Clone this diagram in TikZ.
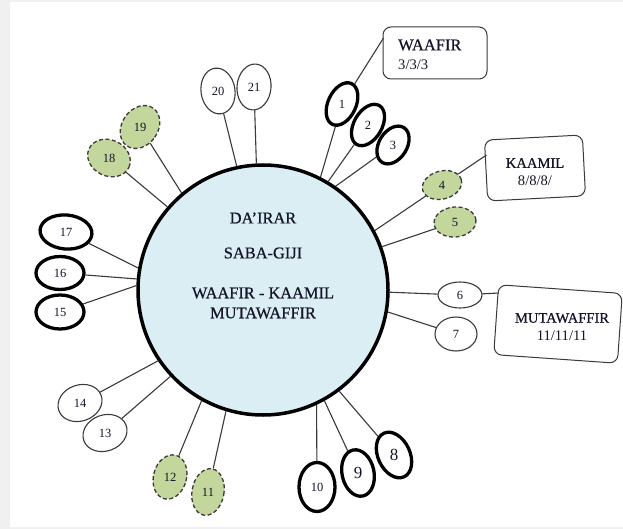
\documentclass[tikz,border=0pt]{standalone}
\usepackage{fontspec}
\setmainfont{Liberation Serif}
\newfontfamily\heavyserif[FakeBold=0.6]{Liberation Serif}
\usetikzlibrary{shapes.geometric}
\definecolor{cblue}{HTML}{DAEEF3}
\definecolor{olivefill}{HTML}{C3D69B}
\definecolor{dgray}{HTML}{3A3A3A}
\definecolor{txt}{HTML}{15152A}
\definecolor{pagegray}{HTML}{F0F0F0}
\tikzset{
  thickel/.style={ellipse, draw=black, line width=3.3pt, fill=white, inner sep=0pt},
  thinel/.style={ellipse, draw=dgray, line width=1.1pt, fill=white, inner sep=0pt},
  greenel/.style={ellipse, draw=dgray, fill=olivefill, line width=1.3pt, dash pattern=on 4pt off 2.5pt, inner sep=0pt},
  conn/.style={draw=dgray, line width=1.1pt},
  num/.style={font=\fontsize{12.5}{14}\selectfont, text=txt, inner sep=0pt},
  bignum/.style={font=\fontsize{17}{19}\selectfont, text=txt, inner sep=0pt},
  ctext/.style={font=\heavyserif\fontsize{16.4}{18}\selectfont, text=txt, inner sep=0pt},
  btitle/.style={font=\heavyserif\fontsize{14.6}{16}\selectfont, text=txt, inner sep=0pt},
  bnum/.style={font=\fontsize{14.6}{16}\selectfont, text=txt, inner sep=0pt},
  infobox/.style={draw=dgray, line width=1pt, rounded corners=8pt, fill=white, inner sep=0pt},
}
\begin{document}
\begin{tikzpicture}[x=1pt,y=-1pt]
\useasboundingbox (0,0) rectangle (623,529);
\fill[pagegray] (0,0) rectangle (623,529);
\fill[white] (10,2) rectangle (623,527);

% main circle
\node[circle, draw=black, line width=3.5pt, fill=cblue, minimum size=250pt, inner sep=0pt] (C) at (263,290) {};
\node[ctext] (t1) at (263,218) {DA’IRAR};
\node[ctext] (t2) at (263,253) {SABA-GIJI};
\node[ctext] (t3) at (263,293) {WAAFIR - KAAMIL};
\node[ctext] (t4) at (263,313) {MUTAWAFFIR};

% info boxes
\node[infobox, minimum width=104pt, minimum height=52pt] (wbox) at (435,53) {};
\node[font=\heavyserif\fontsize{16.5}{18}\selectfont, text=txt, inner sep=0pt, anchor=west] (wt) at (398,45) {WAAFIR};
\node[bnum, anchor=west] (wn) at (398,65) {3/3/3};
\node[infobox, minimum width=98pt, minimum height=61pt, rotate=3] (kbox) at (535,168) {};
\node[btitle] (kt) at (535,163) {KAAMIL};
\node[bnum] (kn) at (535,181) {8/8/8/};
\node[infobox, minimum width=124pt, minimum height=70pt, rotate=-4] (mbox) at (558,324) {};
\node[btitle] (mt) at (562,318) {MUTAWAFFIR};
\node[bnum] (mn) at (562,336) {11/11/11};

% satellite ellipses
\node[thickel, minimum width=28pt, minimum height=45pt, rotate=-25] (e1) at (342,104) {};
\node[thickel, minimum width=28pt, minimum height=45pt, rotate=-30] (e2) at (368,125) {};
\node[thickel, minimum width=28pt, minimum height=41pt, rotate=-32] (e3) at (393,145) {};
\node[greenel, minimum width=40pt, minimum height=28pt, rotate=15] (e4) at (442,185) {};
\node[greenel, minimum width=42pt, minimum height=30pt, rotate=5] (e5) at (455,222) {};
\node[thinel, minimum width=44pt, minimum height=26pt] (e6) at (460,295) {};
\node[thinel, minimum width=42pt, minimum height=34pt] (e7) at (456,334) {};
\node[thickel, minimum width=32pt, minimum height=48pt, rotate=25] (e8) at (394,455) {};
\node[thickel, minimum width=32pt, minimum height=47pt, rotate=12] (e9) at (358,473) {};
\node[thickel, minimum width=36pt, minimum height=49pt] (e10) at (317,487) {};
\node[greenel, minimum width=32pt, minimum height=47pt, rotate=-10] (e11) at (208,492) {};
\node[greenel, minimum width=33pt, minimum height=45pt, rotate=-15] (e12) at (170,477) {};
\node[thinel, minimum width=45pt, minimum height=36pt, rotate=20] (e13) at (105,433) {};
\node[thinel, minimum width=45pt, minimum height=36pt, rotate=20] (e14) at (80,403) {};
\node[thickel, minimum width=48pt, minimum height=34pt] (e15) at (60,312) {};
\node[thickel, minimum width=48pt, minimum height=33pt] (e16) at (60,273) {};
\node[thickel, minimum width=52pt, minimum height=34pt, rotate=-5] (e17) at (66,232) {};
\node[greenel, minimum width=44pt, minimum height=36pt, rotate=-25] (e18) at (109,158) {};
\node[greenel, minimum width=36pt, minimum height=46pt, rotate=-35] (e19) at (140,127) {};
\node[thinel, minimum width=34pt, minimum height=46pt, rotate=8] (e20) at (218,91) {};
\node[thinel, minimum width=34pt, minimum height=46pt, rotate=-5] (e21) at (254,87) {};

% numbers
\node[num] at (e1) {1};
\node[num] at (e2) {2};
\node[num] at (e3) {3};
\node[num] at (e4) {4};
\node[num] at (e5) {5};
\node[num] at (e6) {6};
\node[num] at (e7) {7};
\node[bignum] at (e8) {8};
\node[bignum] at (e9) {9};
\node[num] at (e10) {10};
\node[num] at (e11) {11};
\node[num] at (e12) {12};
\node[num] at (e13) {13};
\node[num] at (e14) {14};
\node[num] at (e15) {15};
\node[num] at (e16) {16};
\node[num] at (e17) {17};
\node[num] at (e18) {18};
\node[num] at (e19) {19};
\node[num] at (e20) {20};
\node[num] at (e21) {21};

% connectors from circle
\draw[conn] (C.63) -- (e1);
\draw[conn] (C.59) -- (e2);
\draw[conn] (C.55) -- (e3);
\draw[conn] (C.28) -- (e4);
\draw[conn] (C.20) -- (e5);
\draw[conn] (C.-1) -- (e6);
\draw[conn] (C.-10) -- (e7);
\draw[conn] (C.-53.5) -- (e8);
\draw[conn] (C.-61) -- (e9);
\draw[conn] (C.-65) -- (e10);
\draw[conn] (C.-107) -- (e11);
\draw[conn] (C.-119) -- (e12);
\draw[conn] (C.-137) -- (e13);
\draw[conn] (C.-146) -- (e14);
\draw[conn] (C.178.5) -- (e15);
\draw[conn] (C.175) -- (e16);
\draw[conn] (C.170) -- (e17);
\draw[conn] (C.139) -- (e18);
\draw[conn] (C.130) -- (e19);
\draw[conn] (C.102) -- (e20);
\draw[conn] (C.93) -- (e21);

% connectors to boxes
\coordinate (wb) at (383.5,38);
\coordinate (kb) at (486.5,155);
\coordinate (mb) at (499,293);
\draw[conn] (e1) -- (wb);
\draw[conn] (e4) -- (kb);
\draw[conn] (e6) -- (mb);
\end{tikzpicture}
\end{document}
